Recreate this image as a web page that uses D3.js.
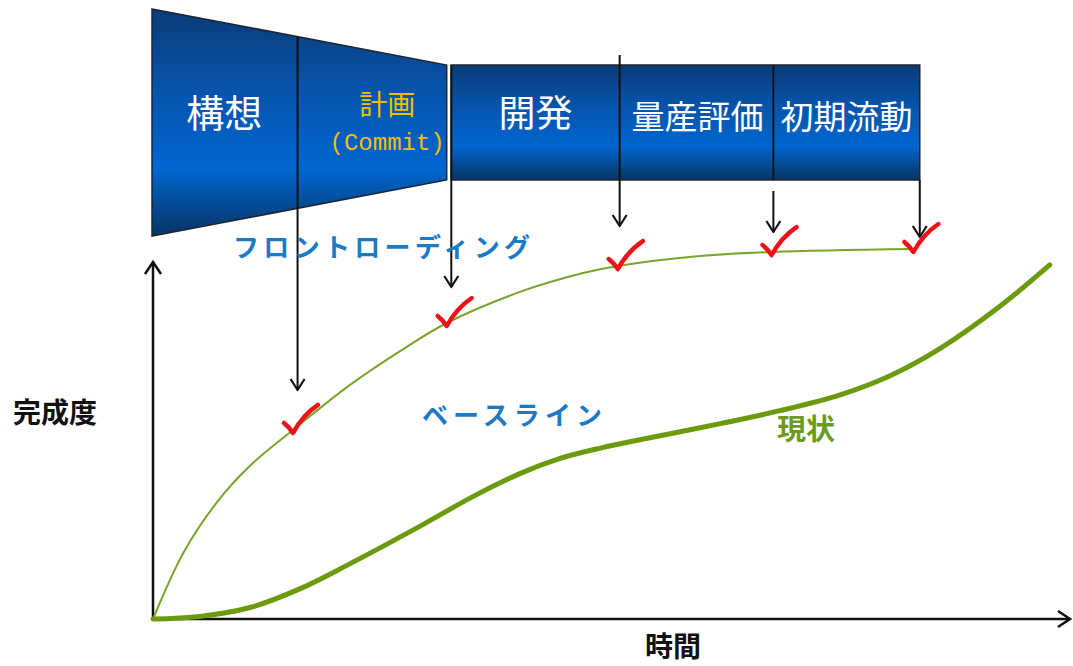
<!DOCTYPE html>
<html>
<head>
<meta charset="utf-8">
<script src="https://cdn.jsdelivr.net/npm/d3@7"></script>
<style>
  body { margin: 0; background: #fff; }
  svg { display: block; }
  text { font-family: "Noto Sans CJK JP", "Noto Sans", sans-serif; }
</style>
</head>
<body>
<svg id="chart" width="1073" height="666"></svg>
<script>
// ---- data ----
const phaseNames = ["構想", "計画", "開発", "量産評価", "初期流動"];
const phaseStart = [0, 15.8, 32.6, 51.0, 67.8];
const phaseEnd = [15.8, 32.1, 51.0, 67.8, 83.8];

// baseline (front loading) curve: time, completion
const baseT = [0, 3.3, 7.0, 10.6, 15.3, 21.5, 27.0, 32.1, 40.1, 47.0, 50.8, 59.8, 67.7, 83.1];
const baseV = [0, 17.8, 31.6, 41.4, 51.1, 63.2, 72.4, 80.0, 88.4, 93.5, 95.4, 98.1, 99.2, 100];

// current state curve
const curT = [0, 5.1, 10.6, 16.1, 21.5, 29.2, 34.6, 40.1, 44.5, 48.9, 54.3, 62.0, 68.5, 75.1, 80.5, 86.0, 92.6, 98.0];
const curV = [0, 0.7, 3.1, 8.2, 14.9, 25.1, 32.6, 39.3, 43.4, 46.2, 49.0, 52.8, 56.3, 60.6, 65.7, 73.1, 84.6, 95.7];

// milestones (checks) on the baseline
const milestoneT = [15.3, 32.1, 50.8, 67.6, 83.1];

// ---- layout ----
const svg = d3.select("#chart");
const x = d3.scaleLinear().domain([0, 100]).range([153, 1068]);
const y = d3.scaleLinear().domain([0, 100]).range([619, 249]);

const boxTop = 65, boxBottom = 180, boxMid = 122.5;
const funnelHalf = d3.scaleLinear().domain([0, 32.1]).range([113.5, 57.5]);
const arrowTopY = [null, 65, 55, 191, 180];   // null -> start at funnel edge
const arrowTipY = [390, 287, 226, 232, 237];

// gradient for the phase boxes
const defs = svg.append("defs");
const grad = defs.append("linearGradient")
    .attr("id", "boxGrad")
    .attr("x1", 0).attr("y1", 0).attr("x2", 0).attr("y2", 1);
grad.append("stop").attr("offset", "0%").attr("stop-color", "#0a3b78");
grad.append("stop").attr("offset", "35%").attr("stop-color", "#0753aa");
grad.append("stop").attr("offset", "70%").attr("stop-color", "#0066d0");
grad.append("stop").attr("offset", "100%").attr("stop-color", "#083464");

// funnel (first two phases)
const funnelEnd = phaseEnd[1];
svg.append("path")
    .attr("d", `M${x(0) - 1},${boxMid - funnelHalf(0)}
        L${x(funnelEnd)},${boxMid - funnelHalf(funnelEnd)}
        L${x(funnelEnd)},${boxMid + funnelHalf(funnelEnd)}
        L${x(0) - 1},${boxMid + funnelHalf(0)}Z`)
    .attr("fill", "url(#boxGrad)")
    .attr("stroke", "#1c2630")
    .attr("stroke-width", 1.5);

// rectangle (remaining phases)
svg.append("rect")
    .attr("x", x(phaseStart[2]))
    .attr("y", boxTop)
    .attr("width", x(phaseEnd[4]) - x(phaseStart[2]))
    .attr("height", boxBottom - boxTop)
    .attr("fill", "url(#boxGrad)")
    .attr("stroke", "#1c2630")
    .attr("stroke-width", 1.5);

// divider between 量産評価 and 初期流動
svg.append("line")
    .attr("x1", x(phaseStart[4])).attr("x2", x(phaseStart[4]))
    .attr("y1", boxTop).attr("y2", boxBottom)
    .attr("stroke", "#111").attr("stroke-width", 1.8);

// phase labels
const labelPos = [
    { cx: (x(phaseStart[0]) + x(phaseEnd[0])) / 2 - 1, y: 127, size: 38, fill: "#ffffff" },
    { cx: (x(phaseStart[1]) + x(phaseEnd[1])) / 2 + 15, y: 115, size: 28, fill: "#f2bf00" },
    { cx: (x(phaseStart[2]) + x(phaseEnd[2])) / 2, y: 127, size: 37, fill: "#ffffff" },
    { cx: (x(phaseStart[3]) + x(phaseEnd[3])) / 2 + 1, y: 129, size: 33, fill: "#ffffff" },
    { cx: (x(phaseStart[4]) + x(phaseEnd[4])) / 2, y: 129, size: 33, fill: "#ffffff" }
];
svg.selectAll(".phase")
    .data(phaseNames)
    .enter()
    .append("text")
    .attr("class", "phase")
    .attr("x", (d, i) => labelPos[i].cx)
    .attr("y", (d, i) => labelPos[i].y)
    .attr("text-anchor", "middle")
    .attr("font-size", (d, i) => labelPos[i].size)
    .attr("fill", (d, i) => labelPos[i].fill)
    .text(d => d);

svg.append("text")
    .attr("x", labelPos[1].cx)
    .attr("y", 150)
    .attr("text-anchor", "middle")
    .attr("font-size", 24)
    .style("font-family", "'Liberation Mono', 'DejaVu Sans Mono', monospace")
    .attr("fill", "#f2bf00")
    .text("(Commit)");

// axes
const axisColor = "#111";
svg.append("line")
    .attr("x1", x(0)).attr("y1", y(0))
    .attr("x2", x(0)).attr("y2", 262)
    .attr("stroke", axisColor).attr("stroke-width", 2.5);
svg.append("polyline")
    .attr("points", `${x(0) - 8},${274} ${x(0)},${262} ${x(0) + 8},${274}`)
    .attr("fill", "none").attr("stroke", axisColor).attr("stroke-width", 2.5);
svg.append("line")
    .attr("x1", x(0)).attr("y1", y(0))
    .attr("x2", 1070).attr("y2", y(0))
    .attr("stroke", axisColor).attr("stroke-width", 2.5);
svg.append("polyline")
    .attr("points", `1058,${y(0) - 8} 1070,${y(0)} 1058,${y(0) + 8}`)
    .attr("fill", "none").attr("stroke", axisColor).attr("stroke-width", 2.5);

// milestone arrows, one per phase boundary
const arrowX = [x(phaseEnd[0]), x(phaseStart[2]), x(phaseStart[3]), x(phaseStart[4]), x(phaseEnd[4])];
arrowX.forEach((ax, i) => {
    const top = arrowTopY[i] === null ? boxMid - funnelHalf(phaseEnd[0]) : arrowTopY[i];
    const tip = arrowTipY[i];
    svg.append("line")
        .attr("x1", ax).attr("y1", top)
        .attr("x2", ax).attr("y2", tip)
        .attr("stroke", "#111").attr("stroke-width", 2);
    svg.append("polyline")
        .attr("points", `${ax - 7},${tip - 11} ${ax},${tip} ${ax + 7},${tip - 11}`)
        .attr("fill", "none").attr("stroke", "#111").attr("stroke-width", 2.2)
        .attr("stroke-linejoin", "round");
});

// curves
const line = d3.line()
    .x(d => x(d[0]))
    .y(d => y(d[1]))
    .curve(d3.curveCatmullRom.alpha(0.5));

svg.append("path")
    .datum(baseT.map((t, i) => [t, baseV[i]]))
    .attr("d", line)
    .attr("fill", "none")
    .attr("stroke", "#7aa52c")
    .attr("stroke-width", 2);

svg.append("path")
    .datum(curT.map((t, i) => [t, curV[i]]))
    .attr("d", line)
    .attr("fill", "none")
    .attr("stroke", "#6b9b0c")
    .attr("stroke-width", 5)
    .attr("stroke-linecap", "round");

// check marks on the baseline
const baseAt = t => {
    const i = d3.bisectRight(baseT, t) - 1;
    const j = Math.min(i + 1, baseT.length - 1);
    const f = j === i ? 0 : (t - baseT[i]) / (baseT[j] - baseT[i]);
    return baseV[i] + f * (baseV[j] - baseV[i]);
};
svg.selectAll(".check")
    .data(milestoneT)
    .enter()
    .append("path")
    .attr("class", "check")
    .attr("transform", d => `translate(${x(d)},${y(baseAt(d)) + 3})`)
    .attr("d", "M-9,-10 Q-4,-6 0,0 Q10,-18 25,-28")
    .attr("fill", "none")
    .attr("stroke", "#ee1118")
    .attr("stroke-width", 4.5)
    .attr("stroke-linecap", "round")
    .attr("stroke-linejoin", "round");

// annotations
svg.append("text")
    .attr("x", 233).attr("y", 257)
    .attr("font-size", 26).attr("font-weight", "bold")
    .attr("fill", "#1a7ac6")
    .attr("textLength", 297)
    .attr("lengthAdjust", "spacing")
    .text("フロントローディング");

svg.append("text")
    .attr("x", 422).attr("y", 425)
    .attr("font-size", 26).attr("font-weight", "bold")
    .attr("fill", "#1a7ac6")
    .attr("textLength", 180)
    .attr("lengthAdjust", "spacing")
    .text("ベースライン");

svg.append("text")
    .attr("x", 777).attr("y", 440)
    .attr("font-size", 29).attr("font-weight", "bold")
    .attr("fill", "#6b9b1c")
    .text("現状");

svg.append("text")
    .attr("x", 13).attr("y", 423)
    .attr("font-size", 28).attr("font-weight", "bold")
    .attr("fill", "#111")
    .text("完成度");

svg.append("text")
    .attr("x", 645).attr("y", 657)
    .attr("font-size", 28).attr("font-weight", "bold")
    .attr("fill", "#111")
    .text("時間");
</script>
</body>
</html>
